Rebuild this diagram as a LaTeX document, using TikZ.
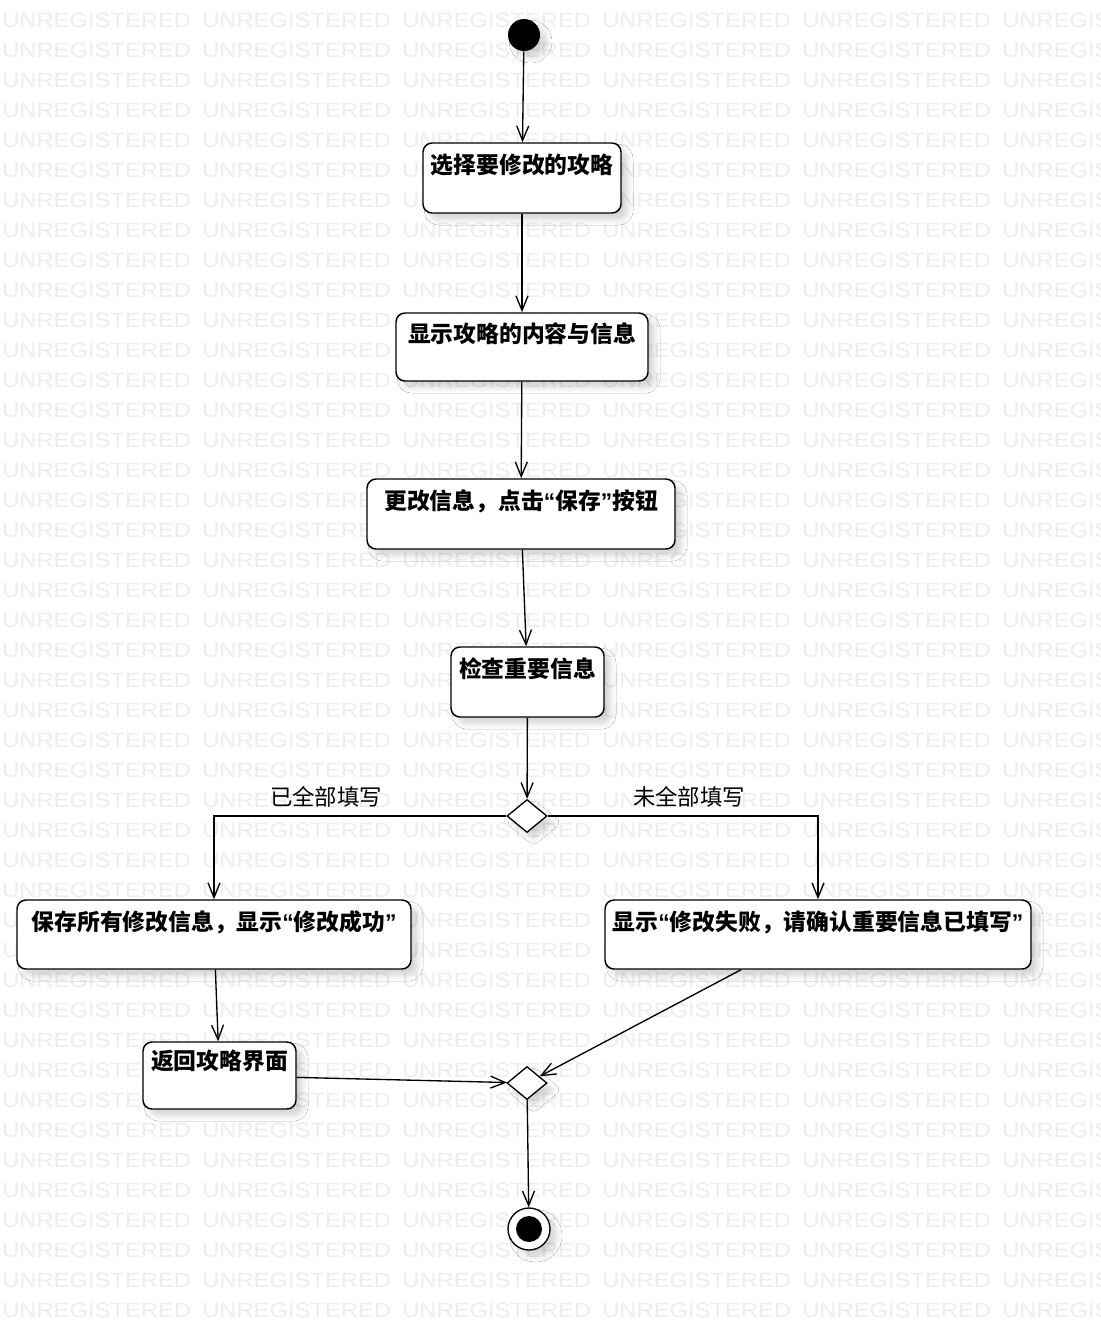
\documentclass[tikz,border=0pt]{standalone}
\usepackage{fontspec}
\setmainfont{Liberation Sans}
\newfontfamily\cjk{Noto Sans CJK SC}
\newfontfamily\qfont{Liberation Sans}
\usetikzlibrary{arrows.meta,shapes.geometric,shadows.blur}
\newdimen\pu \pu=0.75pt
% Western curly quotes inside the Chinese captions
\newcommand{\oq}{{\qfont\bfseries “}}
\newcommand{\cq}{{\qfont\bfseries ”}}
\tikzset{
  softshadow/.style={blur shadow={shadow xshift=5pt, shadow yshift=-5pt,
      shadow blur radius=4pt, shadow opacity=16}},
  wm/.style={anchor=west, inner sep=0pt, text=black!7,
      font=\fontsize{15.5pt}{15.5pt}\selectfont},
  actbox/.style={draw, line width=1.1pt, rounded corners=9\pu, fill=white,
      inner sep=0pt, softshadow},
  acttext/.style={inner sep=0pt, font=\cjk\bfseries\fontsize{17.1pt}{19pt}\selectfont},
  guard/.style={inner sep=0pt, font=\cjk\fontsize{16.8pt}{18pt}\selectfont},
  decision/.style={diamond, draw, line width=1pt, fill=white, inner sep=0pt,
      minimum width=40\pu, minimum height=33\pu, softshadow},
  initial/.style={circle, fill=black, inner sep=0pt, minimum size=32\pu, softshadow},
  final/.style={circle, draw, line width=1pt, fill=white, inner sep=0pt,
      minimum size=42\pu, softshadow},
  flow/.style={line width=1pt, -{Straight Barb[length=11pt, width=9pt, line width=1pt]}},
}
\begin{document}
\begin{tikzpicture}[x=0.75pt, y=-0.75pt]
\useasboundingbox (0,0) rectangle (1100,1321);
\fill[white] (0,0) rectangle (1100,1321);

% background watermark rows
\begin{scope}
\clip (0,0) rectangle (1100,1321);
\foreach \r in {0,...,43}
  \foreach \c in {0,...,5}
    \node[wm] at (2+200*\c, 20+30*\r) {\scalebox{1.15}[1]{UNREGISTERED}};
\end{scope}

% states
\node[initial] (start) at (524,35) {};

\node[actbox, minimum width=198\pu, minimum height=70\pu] (b1) at (522,178) {};
\node[acttext] (t1) at ([yshift=-23\pu]b1.north) {选择要修改的攻略};

\node[actbox, minimum width=252\pu, minimum height=68\pu] (b2) at (522,347) {};
\node[acttext] (t2) at ([yshift=-21\pu]b2.north) {显示攻略的内容与信息};

\node[actbox, minimum width=308\pu, minimum height=70\pu] (b3) at (521,514) {};
\node[acttext] (t3) at ([yshift=-23\pu]b3.north) {更改信息，点击\oq 保存\cq 按钮};

\node[actbox, minimum width=153\pu, minimum height=70\pu] (b4) at (527.5,682) {};
\node[acttext] (t4) at ([yshift=-22\pu]b4.north) {检查重要信息};

\node[decision] (d1) at (527,816) {};

\node[actbox, minimum width=394\pu, minimum height=69\pu] (b5) at (214,934.5) {};
\node[acttext] (t5) at ([yshift=-23\pu]b5.north) {保存所有修改信息，显示\oq 修改成功\cq};

\node[actbox, minimum width=426\pu, minimum height=69\pu] (b6) at (818,934.5) {};
\node[acttext] (t6) at ([yshift=-23\pu]b6.north) {显示\oq 修改失败，请确认重要信息已填写\cq};

\node[actbox, minimum width=153\pu, minimum height=67\pu] (b7) at (219.5,1075.5) {};
\node[acttext] (t7) at ([yshift=-20\pu]b7.north) {返回攻略界面};

\node[decision] (d2) at (527,1083) {};

\node[final] (end) at (529,1229) {};
\fill (end.center) circle (13\pu);

% transitions
\draw[flow] (start) -- (b1);
\draw[flow] (b1) -- (b2);
\draw[flow] (b2) -- (b3);
\draw[flow] (b3) -- (b4);
\draw[flow] (b4) -- (d1);
\draw[flow] (d1.west) -| (b5.north);
\draw[flow] (d1.east) -| (b6.north);
\node[guard] (g1) at (326,797) {已全部填写};
\node[guard] (g2) at (689,797) {未全部填写};
\draw[flow] (b5) -- (b7);
\draw[flow] (b7) -- (d2);
\draw[flow] ([xshift=-77\pu]b6.south) -- (d2);
\draw[flow] (d2) -- (end);
\end{tikzpicture}
\end{document}
